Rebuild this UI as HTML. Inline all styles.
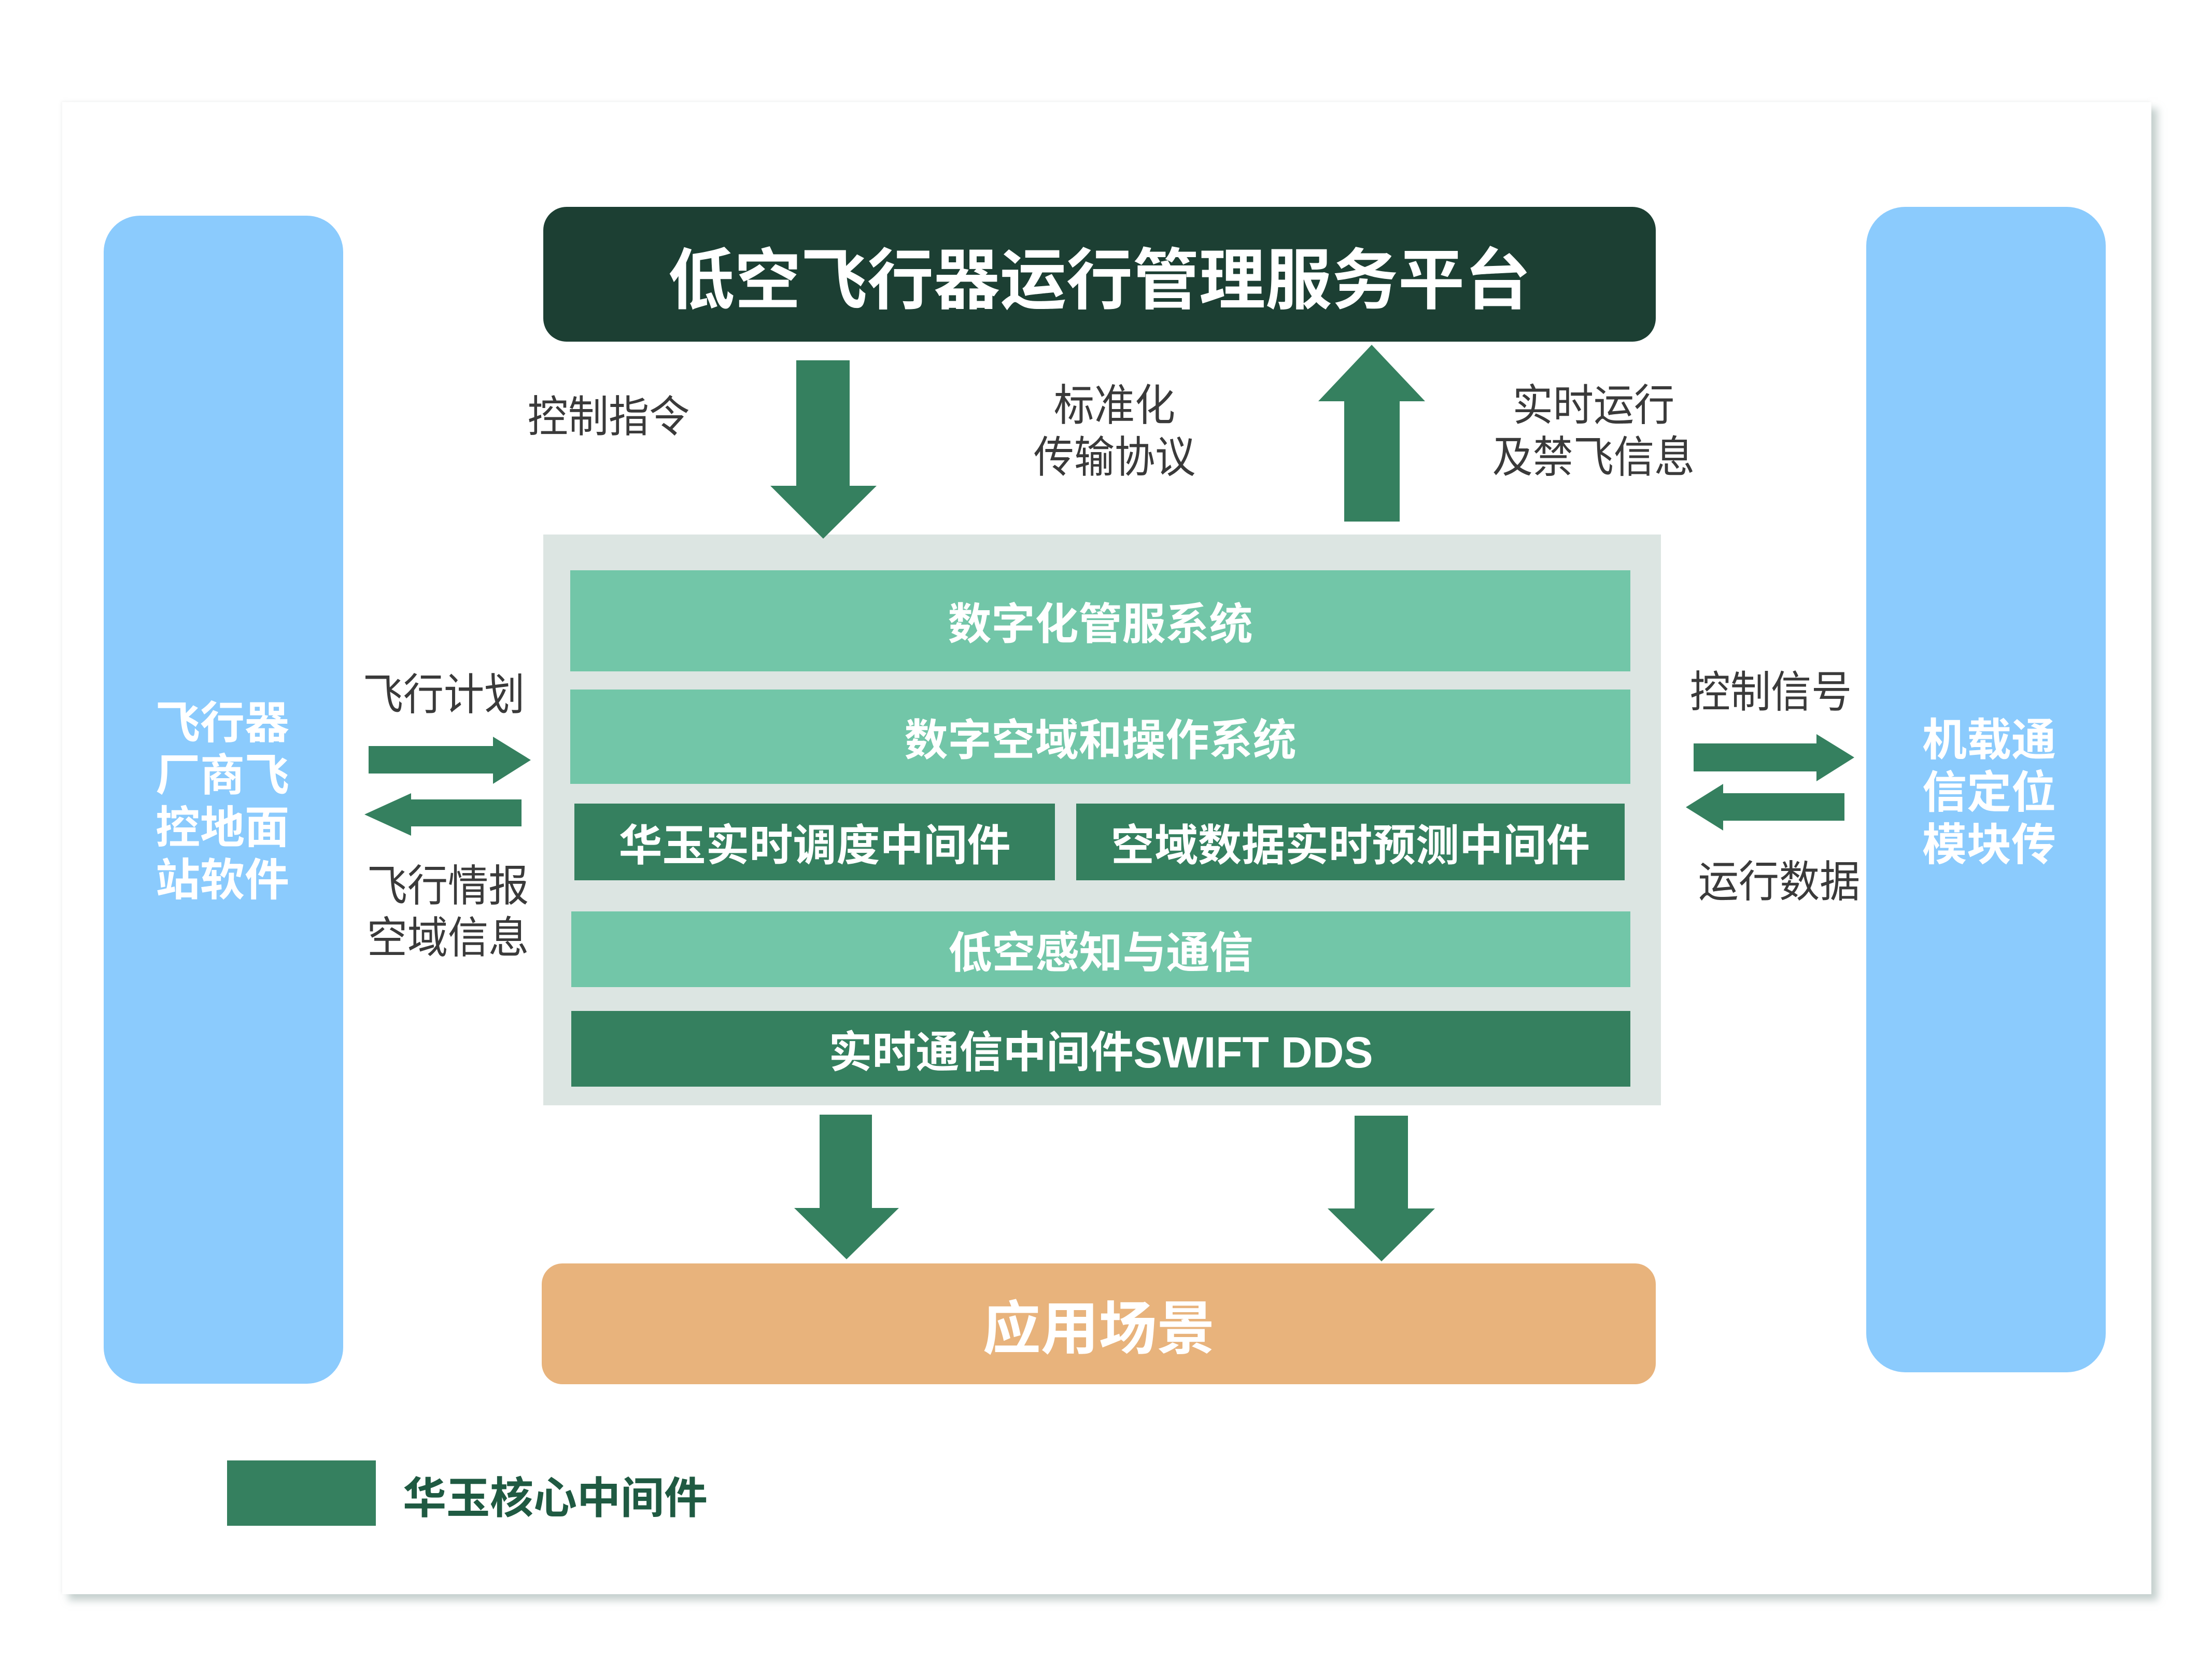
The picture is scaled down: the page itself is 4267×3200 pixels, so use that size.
<!DOCTYPE html>
<html><head><meta charset="utf-8"><style>
html,body{margin:0;padding:0}
body{width:4267px;height:3200px;position:relative;background:#fff;overflow:hidden;font-family:"Liberation Sans","Noto Sans CJK SC",sans-serif}
.a{position:absolute;box-sizing:border-box}
.c{display:flex;align-items:center;justify-content:center;color:#fff;font-weight:700;white-space:nowrap}
.lbl{position:absolute;color:#3a3a3a;font-size:84px;line-height:100px;text-align:center;white-space:nowrap;font-weight:400;transform:scaleX(0.93);transform-origin:center}
.bt{position:absolute;color:#fff;font-weight:700;font-size:86px;line-height:101px;text-align:center;white-space:nowrap}
</style></head><body>
<div class="a" style="left:120px;top:197px;width:4030px;height:2878px;background:#fff;box-shadow:12px 12px 14px rgba(150,170,165,0.55), -2px -2px 6px rgba(200,200,200,0.2)"></div>

<div class="a" style="left:200px;top:416px;width:462px;height:2253px;background:#8bcbfd;border-radius:70px"></div>
<div class="a" style="left:3600px;top:399px;width:462px;height:2248px;background:#8bcbfd;border-radius:75px"></div>

<div class="a c" style="left:1048px;top:399px;width:2146px;height:260px;background:#1c3f33;border-radius:45px;font-size:128px">低空飞行器运行管理服务平台</div>

<div class="a" style="left:1048px;top:1031px;width:2156px;height:1101px;background:#dce5e2"></div>
<div class="a c" style="left:1100px;top:1100px;width:2045px;height:195px;background:#72c6a8;font-size:84px">数字化管服系统</div>
<div class="a c" style="left:1100px;top:1330px;width:2045px;height:182px;background:#72c6a8;font-size:84px">数字空域和操作系统</div>
<div class="a c" style="left:1108px;top:1550px;width:927px;height:148px;background:#35805f;font-size:84px">华玉实时调度中间件</div>
<div class="a c" style="left:2076px;top:1550px;width:1058px;height:148px;background:#35805f;font-size:84px">空域数据实时预测中间件</div>
<div class="a c" style="left:1102px;top:1758px;width:2043px;height:146px;background:#72c6a8;font-size:84px">低空感知与通信</div>
<div class="a c" style="left:1102px;top:1950px;width:2043px;height:146px;background:#35805f;font-size:84px">实时通信中间件SWIFT DDS</div>

<div class="a c" style="left:1045px;top:2437px;width:2149px;height:233px;background:#e8b37c;border-radius:40px;font-size:112px">应用场景</div>

<svg class="a" style="left:0;top:0" width="4267" height="3200" viewBox="0 0 4267 3200">
<g fill="#35805f">
<polygon points="1536,695 1639,695 1639,937 1691,937 1588,1039 1486,937 1536,937"/>
<polygon points="2593,1006 2700,1006 2700,774 2749,774 2646,665 2543,774 2593,774"/>
<polygon points="1581,2150 1682,2150 1682,2330 1734,2330 1633,2429 1532,2330 1581,2330"/>
<polygon points="2613,2152 2716,2152 2716,2331 2768,2331 2665,2433 2561,2331 2613,2331"/>
<polygon points="711,1439 951,1439 951,1421 1024,1466 951,1512 951,1492 711,1492"/>
<polygon points="1006,1542 793,1542 793,1530 703,1571 793,1612 793,1594 1006,1594"/>
<polygon points="3267,1434 3504,1434 3504,1416 3577,1461 3504,1507 3504,1488 3267,1488"/>
<polygon points="3558,1530 3324,1530 3324,1512 3252,1557 3324,1602 3324,1583 3558,1583"/>
</g>
<rect x="438" y="2817" width="287" height="126" fill="#35805f"/>
</svg>

<div class="a" style="left:777px;top:2840px;font-size:84px;font-weight:700;color:#1f5a42;line-height:100px;white-space:nowrap">华玉核心中间件</div>

<div class="lbl" style="left:1006px;top:754px">控制指令</div>
<div class="lbl" style="left:1950px;top:732px;width:400px">标准化<br>传输协议</div>
<div class="lbl" style="left:2824px;top:732px;width:500px">实时运行<br>及禁飞信息</div>
<div class="lbl" style="left:688px;top:1290px">飞行计划</div>
<div class="lbl" style="left:664px;top:1659px;width:400px">飞行情报<br>空域信息</div>
<div class="lbl" style="left:3216px;top:1285px;width:400px">控制信号</div>
<div class="lbl" style="left:3232px;top:1651px;width:400px">运行数据</div>

<div class="bt" style="left:229px;top:1345px;width:400px">飞行器<br>厂商飞<br>控地面<br>站软件</div>
<div class="bt" style="left:3637px;top:1378px;width:400px">机载通<br>信定位<br>模块传</div>
</body></html>
